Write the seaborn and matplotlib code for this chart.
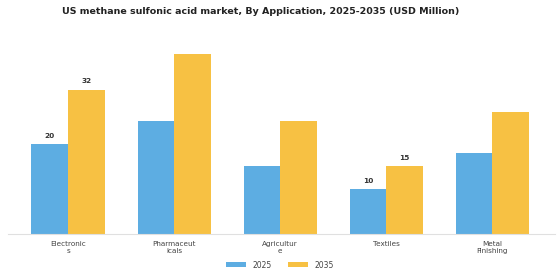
import numpy as np
import pandas as pd
import matplotlib
matplotlib.use('Agg')
import matplotlib.pyplot as plt
import seaborn as sns

# данные с картинки
categories = ['Electronic\ns', 'Pharmaceut\nicals', 'Agricultur\ne', 'Textiles', 'Metal\nFinishing']
years = ['2025', '2035']
values_2025 = [20, 25, 15, 10, 18]
values_2035 = [32, 40, 25, 15, 27]
labeled = ['Electronic\ns', 'Textiles']

df = pd.DataFrame({
    'category': categories * 2,
    'year': [years[0]] * len(categories) + [years[1]] * len(categories),
    'value': values_2025 + values_2035,
})

sns.set_style('white')
plt.rcParams['font.family'] = ['DejaVu Sans']

fig = plt.figure(figsize=(5.6, 2.8), dpi=100)
ax = fig.add_axes([8 / 560, 46 / 280, 547 / 560, 200 / 280])

sns.barplot(data=df, x='category', y='value', hue='year',
            palette=['#5DADE2', '#F7C143'], width=0.69, saturation=1,
            linewidth=0, edgecolor='none', ax=ax, legend=True)

# подписи только у двух категорий
for cont, yr in zip(ax.containers, years):
    for bar, cat, v in zip(cont, categories, df[df['year'] == yr]['value']):
        if cat in labeled:
            ax.text(bar.get_x() + bar.get_width() / 2, bar.get_height() + 1.2, str(v),
                    ha='center', va='bottom', fontsize=5.3, fontweight='bold', color='#333333')

ax.set_xlim(-0.566, 4.59)
ax.set_ylim(0, 44.4)
ax.set_xlabel('')
ax.set_ylabel('')
ax.set_yticks([])
ax.tick_params(axis='x', length=3, width=0.6, color='#888888', labelsize=5.2,
               labelcolor='#444444', pad=2)
for s in ['top', 'right', 'left']:
    ax.spines[s].set_visible(False)
ax.spines['bottom'].set_color('#e0e0e0')
ax.spines['bottom'].set_linewidth(0.8)

ax.legend(loc='center', bbox_to_anchor=(272 / 547, -0.155), ncol=2, frameon=False,
          fontsize=5.5, handlelength=2.6, handleheight=0.6, columnspacing=2.2,
          handletextpad=0.8, labelcolor='#444444')

fig.text(0.465, 0.96, 'US methane sulfonic acid market, By Application, 2025-2035 (USD Million)',
         ha='center', va='center', fontsize=6.8, fontweight='bold', color='#222222')

fig.savefig('out.png', dpi=100)
